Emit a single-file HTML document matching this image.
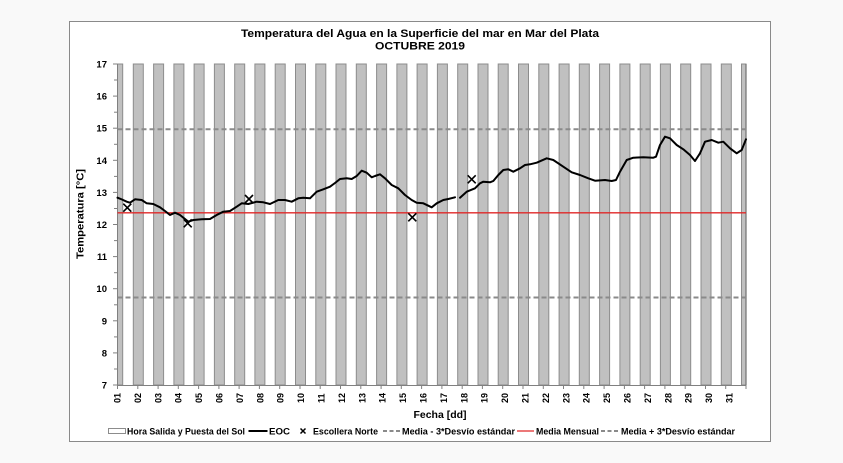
<!DOCTYPE html>
<html><head><meta charset="utf-8"><style>
html,body{margin:0;padding:0;background:#f9f9f9;}
svg{display:block;}
text{font-family:"Liberation Sans",Arial,sans-serif;font-weight:bold;fill:#000;}
</style></head><body>
<svg width="843" height="463" viewBox="0 0 843 463" xmlns="http://www.w3.org/2000/svg">
<rect x="0" y="0" width="843" height="463" fill="#f9f9f9"/>
<rect x="69.5" y="21.5" width="701" height="420" fill="#ffffff" stroke="#8a8a8a" stroke-width="1"/>

<!-- title -->
<text x="420" y="37" font-size="11" text-anchor="middle" textLength="358" lengthAdjust="spacingAndGlyphs">Temperatura del Agua en la Superficie del mar en Mar del Plata</text>
<text x="420" y="49.5" font-size="11" text-anchor="middle" textLength="90" lengthAdjust="spacingAndGlyphs">OCTUBRE 2019</text>

<!-- night bars -->
<g fill="#c0c0c0" stroke="#8c8c8c" stroke-width="1">
<rect x="117.5" y="64" width="5.2" height="321"/>
<rect x="133.3" y="64" width="10" height="321"/>
<rect x="153.6" y="64" width="10" height="321"/>
<rect x="173.9" y="64" width="10" height="321"/>
<rect x="194.1" y="64" width="10" height="321"/>
<rect x="214.4" y="64" width="10" height="321"/>
<rect x="234.7" y="64" width="10" height="321"/>
<rect x="254.9" y="64" width="10" height="321"/>
<rect x="275.2" y="64" width="10" height="321"/>
<rect x="295.5" y="64" width="10" height="321"/>
<rect x="315.8" y="64" width="10" height="321"/>
<rect x="336.0" y="64" width="10" height="321"/>
<rect x="356.3" y="64" width="10" height="321"/>
<rect x="376.6" y="64" width="10" height="321"/>
<rect x="396.9" y="64" width="10" height="321"/>
<rect x="417.1" y="64" width="10" height="321"/>
<rect x="437.4" y="64" width="10" height="321"/>
<rect x="457.7" y="64" width="10" height="321"/>
<rect x="478.0" y="64" width="10" height="321"/>
<rect x="498.2" y="64" width="10" height="321"/>
<rect x="518.5" y="64" width="10" height="321"/>
<rect x="538.8" y="64" width="10" height="321"/>
<rect x="559.1" y="64" width="10" height="321"/>
<rect x="579.3" y="64" width="10" height="321"/>
<rect x="599.6" y="64" width="10" height="321"/>
<rect x="619.9" y="64" width="10" height="321"/>
<rect x="640.2" y="64" width="10" height="321"/>
<rect x="660.4" y="64" width="10" height="321"/>
<rect x="680.7" y="64" width="10" height="321"/>
<rect x="701.0" y="64" width="10" height="321"/>
<rect x="721.3" y="64" width="10" height="321"/>
<rect x="741.5" y="64" width="4.5" height="321"/>
</g>
<line x1="746" y1="64" x2="746" y2="385" stroke="#707070" stroke-width="1.2"/>

<!-- axes -->
<line x1="117.5" y1="64" x2="117.5" y2="385.5" stroke="#808080" stroke-width="1"/>
<line x1="117.5" y1="385.5" x2="746" y2="385.5" stroke="#808080" stroke-width="1"/>
<g stroke="#808080" stroke-width="1">
<line x1="113" y1="64" x2="117.5" y2="64"/><line x1="114" y1="80" x2="117.5" y2="80"/>
<line x1="113" y1="96.1" x2="117.5" y2="96.1"/><line x1="114" y1="112.2" x2="117.5" y2="112.2"/>
<line x1="113" y1="128.2" x2="117.5" y2="128.2"/><line x1="114" y1="144.3" x2="117.5" y2="144.3"/>
<line x1="113" y1="160.3" x2="117.5" y2="160.3"/><line x1="114" y1="176.4" x2="117.5" y2="176.4"/>
<line x1="113" y1="192.4" x2="117.5" y2="192.4"/><line x1="114" y1="208.5" x2="117.5" y2="208.5"/>
<line x1="113" y1="224.5" x2="117.5" y2="224.5"/><line x1="114" y1="240.6" x2="117.5" y2="240.6"/>
<line x1="113" y1="256.6" x2="117.5" y2="256.6"/><line x1="114" y1="272.7" x2="117.5" y2="272.7"/>
<line x1="113" y1="288.7" x2="117.5" y2="288.7"/><line x1="114" y1="304.8" x2="117.5" y2="304.8"/>
<line x1="113" y1="320.8" x2="117.5" y2="320.8"/><line x1="114" y1="336.9" x2="117.5" y2="336.9"/>
<line x1="113" y1="352.9" x2="117.5" y2="352.9"/><line x1="114" y1="369" x2="117.5" y2="369"/>
<line x1="113" y1="385" x2="117.5" y2="385"/>
</g>
<g stroke="#808080" stroke-width="1">
<line x1="117.5" y1="385" x2="117.5" y2="389"/><line x1="137.8" y1="385" x2="137.8" y2="389"/>
<line x1="158.1" y1="385" x2="158.1" y2="389"/><line x1="178.3" y1="385" x2="178.3" y2="389"/>
<line x1="198.6" y1="385" x2="198.6" y2="389"/><line x1="218.9" y1="385" x2="218.9" y2="389"/>
<line x1="239.1" y1="385" x2="239.1" y2="389"/><line x1="259.4" y1="385" x2="259.4" y2="389"/>
<line x1="279.7" y1="385" x2="279.7" y2="389"/><line x1="300" y1="385" x2="300" y2="389"/>
<line x1="320.2" y1="385" x2="320.2" y2="389"/><line x1="340.5" y1="385" x2="340.5" y2="389"/>
<line x1="360.8" y1="385" x2="360.8" y2="389"/><line x1="381.1" y1="385" x2="381.1" y2="389"/>
<line x1="401.3" y1="385" x2="401.3" y2="389"/><line x1="421.6" y1="385" x2="421.6" y2="389"/>
<line x1="441.9" y1="385" x2="441.9" y2="389"/><line x1="462.2" y1="385" x2="462.2" y2="389"/>
<line x1="482.4" y1="385" x2="482.4" y2="389"/><line x1="502.7" y1="385" x2="502.7" y2="389"/>
<line x1="523" y1="385" x2="523" y2="389"/><line x1="543.3" y1="385" x2="543.3" y2="389"/>
<line x1="563.5" y1="385" x2="563.5" y2="389"/><line x1="583.8" y1="385" x2="583.8" y2="389"/>
<line x1="604.1" y1="385" x2="604.1" y2="389"/><line x1="624.4" y1="385" x2="624.4" y2="389"/>
<line x1="644.6" y1="385" x2="644.6" y2="389"/><line x1="664.9" y1="385" x2="664.9" y2="389"/>
<line x1="685.2" y1="385" x2="685.2" y2="389"/><line x1="705.5" y1="385" x2="705.5" y2="389"/>
<line x1="725.7" y1="385" x2="725.7" y2="389"/><line x1="746" y1="385" x2="746" y2="389"/>
</g>

<!-- y labels -->
<g font-size="9.5" text-anchor="end">
<text x="107" y="67.5">17</text>
<text x="107" y="99.6">16</text>
<text x="107" y="131.7">15</text>
<text x="107" y="163.8">14</text>
<text x="107" y="195.9">13</text>
<text x="107" y="228">12</text>
<text x="107" y="260.1">11</text>
<text x="107" y="292.2">10</text>
<text x="107" y="324.3">9</text>
<text x="107" y="356.4">8</text>
<text x="107" y="388.5">7</text>
</g>
<text transform="translate(83.5,214) rotate(-90)" font-size="10" text-anchor="middle" textLength="90" lengthAdjust="spacingAndGlyphs">Temperatura [°C]</text>

<!-- x labels -->
<g font-size="9">
<text transform="translate(120.5,403) rotate(-90)">01</text>
<text transform="translate(140.9,403) rotate(-90)">02</text>
<text transform="translate(161.3,403) rotate(-90)">03</text>
<text transform="translate(181.7,403) rotate(-90)">04</text>
<text transform="translate(202.1,403) rotate(-90)">05</text>
<text transform="translate(222.5,403) rotate(-90)">06</text>
<text transform="translate(242.9,403) rotate(-90)">07</text>
<text transform="translate(263.3,403) rotate(-90)">08</text>
<text transform="translate(283.7,403) rotate(-90)">09</text>
<text transform="translate(304.1,403) rotate(-90)">10</text>
<text transform="translate(324.5,403) rotate(-90)">11</text>
<text transform="translate(344.9,403) rotate(-90)">12</text>
<text transform="translate(365.3,403) rotate(-90)">13</text>
<text transform="translate(385.7,403) rotate(-90)">14</text>
<text transform="translate(406.1,403) rotate(-90)">15</text>
<text transform="translate(426.5,403) rotate(-90)">16</text>
<text transform="translate(446.9,403) rotate(-90)">17</text>
<text transform="translate(467.3,403) rotate(-90)">18</text>
<text transform="translate(487.7,403) rotate(-90)">19</text>
<text transform="translate(508.1,403) rotate(-90)">20</text>
<text transform="translate(528.5,403) rotate(-90)">21</text>
<text transform="translate(548.9,403) rotate(-90)">22</text>
<text transform="translate(569.3,403) rotate(-90)">23</text>
<text transform="translate(589.7,403) rotate(-90)">24</text>
<text transform="translate(610.1,403) rotate(-90)">25</text>
<text transform="translate(630.5,403) rotate(-90)">26</text>
<text transform="translate(650.9,403) rotate(-90)">27</text>
<text transform="translate(671.3,403) rotate(-90)">28</text>
<text transform="translate(691.7,403) rotate(-90)">29</text>
<text transform="translate(712.1,403) rotate(-90)">30</text>
<text transform="translate(732.5,403) rotate(-90)">31</text>
</g>
<text x="440" y="418" font-size="10" text-anchor="middle" textLength="53" lengthAdjust="spacingAndGlyphs">Fecha [dd]</text>

<!-- reference lines -->
<line x1="117.5" y1="129.3" x2="746" y2="129.3" stroke="#8a8a8a" stroke-width="2" stroke-dasharray="5,3"/>
<line x1="117.5" y1="297.5" x2="746" y2="297.5" stroke="#8a8a8a" stroke-width="2" stroke-dasharray="5,3"/>
<line x1="117.5" y1="212.8" x2="746" y2="212.8" stroke="#e02828" stroke-width="1.3"/>

<!-- EOC series -->
<g fill="none" stroke="#000" stroke-width="2" stroke-linejoin="round" stroke-linecap="round">
<polyline points="117.5,197.7 122,199.5 126.7,201.7 130,202.7 135,199.3 141.7,200 146.7,203.3 153.3,204 160,207.3 165,211 170,215 175,212.7 180,215 188.3,221.7 193.3,220 201.7,219.3 210,219 216.7,215 223.3,211.7 230,211 236.7,206.7 241.7,203.3 248.3,204 256.7,201.7 263.3,202.3 270,204 278.3,200 285,200 291.7,201.7 298.3,198.3 303.3,197.7 310,198.3 316.7,191.7 323.3,189.3 330,186.7 335,183 340,179 346.7,178.3 351.7,179 356.7,176 361.7,170.7 366.7,172.7 371.7,177.3 375,176 380,174.3 385,178.3 391.7,185 398.3,188.3 405,195 411.7,200 416.7,202.7 423.3,203.3 431.7,207.3 436.7,203.3 443.3,200 448.3,199 455,197.3"/>
<polyline points="460,197.7 466.7,191.7 475,188.3 480,183.3 483.3,181.7 490,182.3 493.3,181 498.3,175 503.3,170 508.3,169.3 513.3,171.7 520,168.3 525,165 530,164.3 536.7,162.7 546.7,158.3 553.3,160 563.3,166.7 571.7,172.3 580,175 588.3,178.3 595,180.7 605,180 611.7,181 616,180 620,171.7 626.7,160 633.3,157.7 643.3,157.3 653.3,157.7 656,156.7 660,145 665,136.7 670,138.3 676.7,145 683.3,149.3 690,155 695,161 700,153.3 705,141.7 711.7,140 718.3,142.7 723.3,141.7 730,148.3 736.7,153.3 741.7,150 746,139.3"/>
</g>

<!-- Escollera Norte crosses -->
<g stroke="#000" stroke-width="1.6">
<path d="M123.3,203.7 L131.3,211.7 M131.3,203.7 L123.3,211.7"/>
<path d="M183.7,219.3 L191.7,227.3 M191.7,219.3 L183.7,227.3"/>
<path d="M245,195 L253,203 M253,195 L245,203"/>
<path d="M408.3,213.3 L416.3,221.3 M416.3,213.3 L408.3,221.3"/>
<path d="M467.7,175.3 L475.7,183.3 M475.7,175.3 L467.7,183.3"/>
</g>

<!-- legend -->
<rect x="108.5" y="428.5" width="17" height="5" fill="#ffffff" stroke="#8c8c8c" stroke-width="1"/>
<g font-size="9.5">
<text x="127" y="434.5" textLength="118" lengthAdjust="spacingAndGlyphs">Hora Salida y Puesta del Sol</text>
<text x="269" y="434.5" textLength="21" lengthAdjust="spacingAndGlyphs">EOC</text>
<text x="313" y="434.5" textLength="65" lengthAdjust="spacingAndGlyphs">Escollera Norte</text>
<text x="402" y="434.5" textLength="113" lengthAdjust="spacingAndGlyphs">Media - 3*Desvío estándar</text>
<text x="536" y="434.5" textLength="63" lengthAdjust="spacingAndGlyphs">Media Mensual</text>
<text x="621" y="434.5" textLength="114" lengthAdjust="spacingAndGlyphs">Media + 3*Desvío estándar</text>
</g>
<line x1="248.5" y1="431" x2="267.5" y2="431" stroke="#000" stroke-width="2"/>
<path d="M300.5,428.5 L305.5,433.5 M305.5,428.5 L300.5,433.5" stroke="#000" stroke-width="1.5"/>
<line x1="383" y1="431" x2="400" y2="431" stroke="#8a8a8a" stroke-width="2" stroke-dasharray="4,2.5"/>
<line x1="517" y1="431" x2="534" y2="431" stroke="#e02828" stroke-width="1.3"/>
<line x1="601" y1="431" x2="619" y2="431" stroke="#8a8a8a" stroke-width="2" stroke-dasharray="4,2.5"/>
</svg>
</body></html>
